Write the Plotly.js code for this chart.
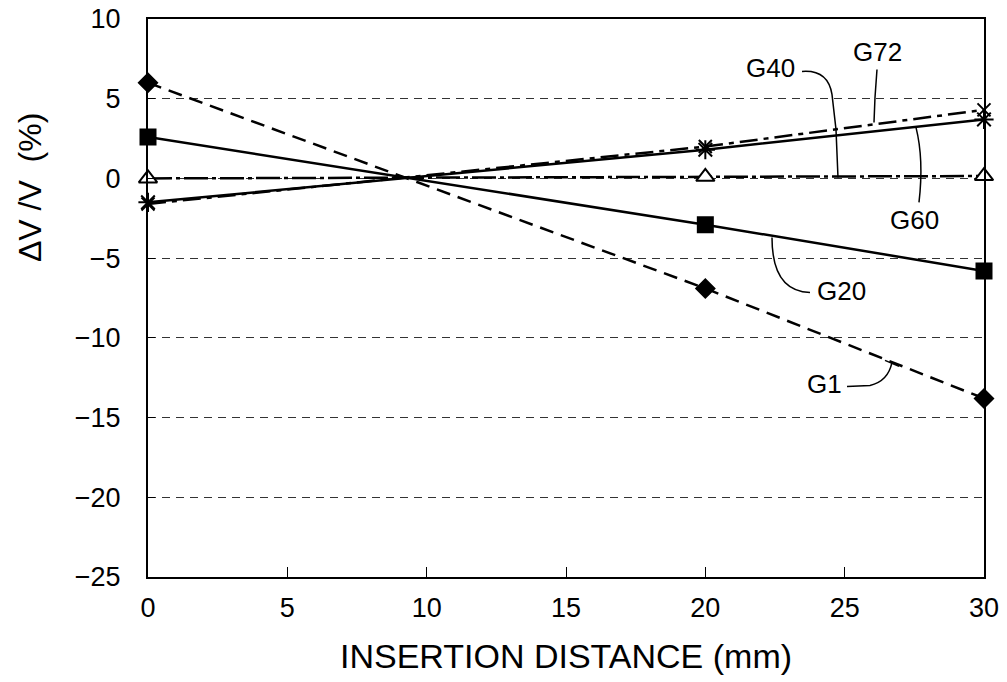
<!DOCTYPE html>
<html><head><meta charset="utf-8">
<script src="https://cdn.plot.ly/plotly-3.0.1.min.js"></script>
<style>body{margin:0;background:#fff}</style>
</head><body>
<div id="chart" style="width:1007px;height:682px"></div>
<script>
const distance = [0, 20, 30];
const seriesNames = ["G1", "G20", "G40", "G60", "G72"];
const g1  = [6.0, -6.9, -13.8];
const g20 = [2.6, -2.9, -5.8];
const g40 = [0.0, 0.1, 0.15];
const g60 = [-1.5, 1.8, 3.7];
const g72 = [-1.6, 2.0, 4.3];
const xTicks = [0, 5, 10, 15, 20, 25, 30];
const yTicks = [10, 5, 0, -5, -10, -15, -20, -25];
const yTickLabels = ["10", "5", "0", "\u22125", "\u221210", "\u221215", "\u221220", "\u221225"];

const values = [g1, g20, g40, g60, g72];
const dashes = ["14px,8px", "solid", "24px,4px,4px,4px", "solid", "18px,6px,5px,6px"];
const symbols = ["diamond", "square", "triangle-up", "asterisk-open", "x-thin-open"];
const sizes = [14, 15, 16, 16, 13];
const fills = ["#000", "#000", "#fff", "#000", "#000"];

const traces = values.map((v, i) => ({
  x: distance, y: v, name: seriesNames[i], type: "scatter", mode: "lines+markers",
  cliponaxis: false,
  line: {color: "#000", width: 2.5, dash: dashes[i]},
  marker: {symbol: symbols[i], size: sizes[i], color: fills[i],
           line: {color: "#000", width: 2}}
}));

// pixel -> data helpers for label leaders
const px = p => (p - 148) / 27.867;
const py = p => (179 - p) / 15.943;
const leaders = [
  `M ${px(802)},${py(72)} Q ${px(828)},${py(70)} ${px(832)},${py(95)} L ${px(836)},${py(130)} L ${px(838)},${py(178)}`,
  `M ${px(877)},${py(70)} L ${px(875)},${py(98)} L ${px(874)},${py(123)}`,
  `M ${px(916)},${py(128)} Q ${px(924)},${py(160)} ${px(919)},${py(203)}`,
  `M ${px(772)},${py(238)} Q ${px(772)},${py(292)} ${px(810)},${py(293)}`,
  `M ${px(847)},${py(387)} L ${px(870)},${py(386)} Q ${px(888)},${py(382)} ${px(892)},${py(363)}`,
  `M ${px(885)},${py(361)} L ${px(899)},${py(367)}`
];
const shapes = leaders.map(d => ({type: "path", path: d, xref: "x", yref: "y",
  line: {color: "#000", width: 1.5}}));

const labels = [
  {t: "G40", x: 771, y: 69}, {t: "G72", x: 878, y: 53}, {t: "G60", x: 915, y: 221},
  {t: "G20", x: 842, y: 292}, {t: "G1", x: 825, y: 385}
];
const annotations = labels.map(l => ({text: l.t, x: px(l.x), y: py(l.y), xref: "x", yref: "y",
  showarrow: false, font: {family: "Liberation Sans, Arial, sans-serif", size: 26, color: "#000"}}));
annotations.push({text: "\u0394V\u00a0/V\u00a0\u00a0(%)", textangle: -90, xref: "paper", yref: "paper",
  x: (30 - 148) / 836, y: (577 - 188) / 558, xanchor: "center", yanchor: "middle", showarrow: false,
  font: {family: "Liberation Sans, Arial, sans-serif", size: 32, color: "#000"}});

const layout = {
  width: 1007, height: 682,
  margin: {l: 148, r: 23, t: 19, b: 105},
  paper_bgcolor: "#fff", plot_bgcolor: "#fff",
  showlegend: false,
  font: {family: "Liberation Sans, Arial, sans-serif", color: "#000"},
  xaxis: {
    range: [0, 30], tickvals: xTicks, ticks: "inside", ticklen: 10, tickwidth: 1, tickcolor: "#000",
    showgrid: false, zeroline: false, showline: true, mirror: true, linecolor: "#000", linewidth: 2,
    tickfont: {size: 27}, ticklabelstandoff: 6,
    title: {text: "INSERTION DISTANCE (mm)", standoff: 22, font: {size: 34}}
  },
  yaxis: {
    range: [-25, 10], tickvals: yTicks, ticktext: yTickLabels, ticks: "inside", ticklen: 7,
    tickwidth: 1, tickcolor: "#000",
    showgrid: true, gridcolor: "#333", gridwidth: 1, griddash: "8px,6px",
    zeroline: false, showline: true, mirror: true, linecolor: "#000", linewidth: 2,
    tickfont: {size: 27}, ticklabelstandoff: 20
  },
  shapes: shapes,
  annotations: annotations
};
Plotly.newPlot("chart", traces, layout, {displayModeBar: false, staticPlot: true});
</script>
</body></html>
